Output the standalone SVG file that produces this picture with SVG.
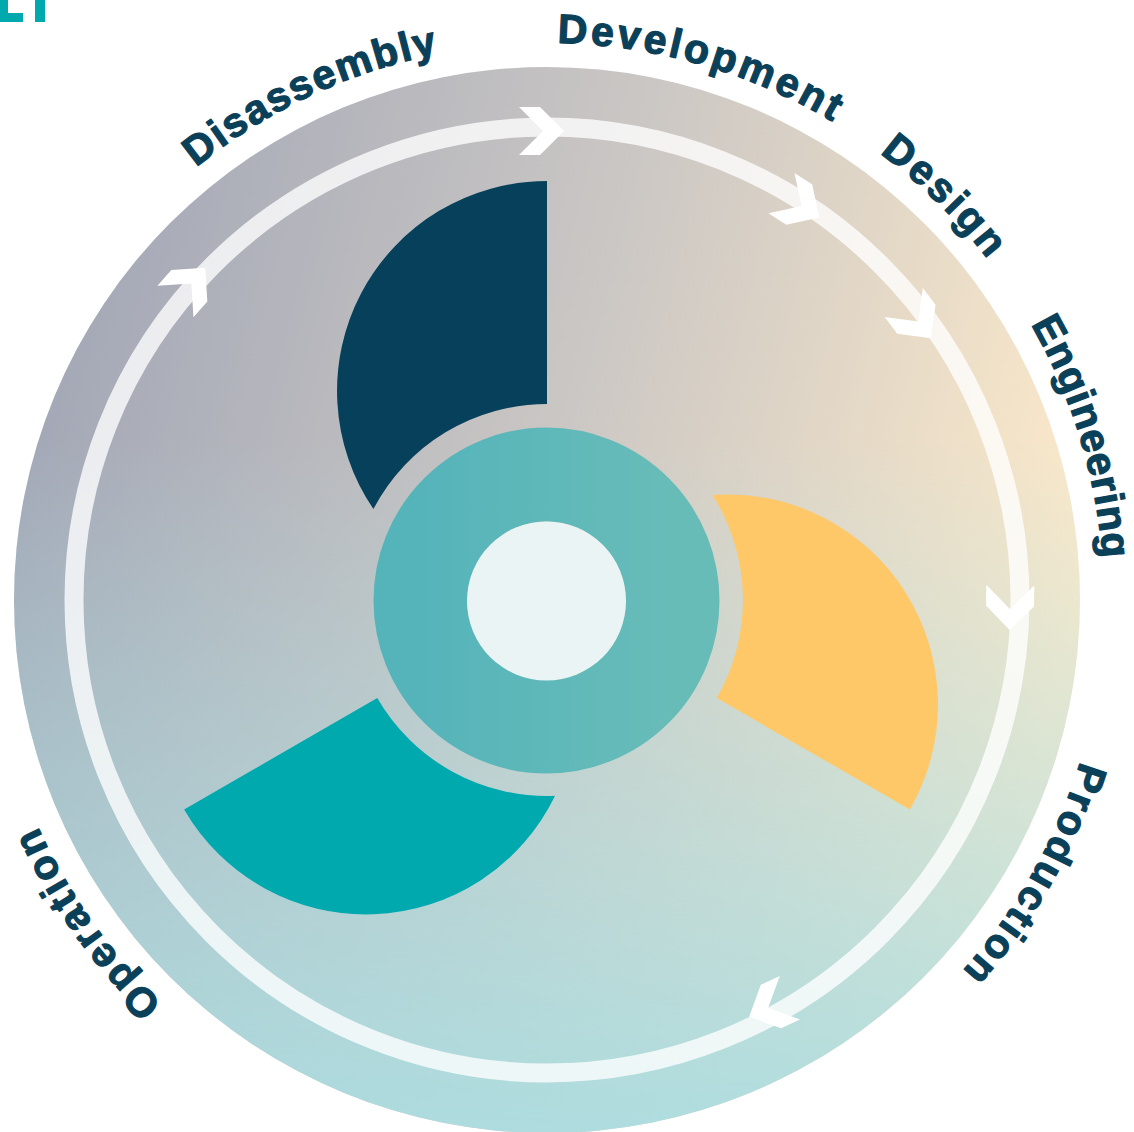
<svg xmlns="http://www.w3.org/2000/svg" xmlns:xlink="http://www.w3.org/1999/xlink" width="1134" height="1132" viewBox="0 0 1134 1132">
<style>
.lbl{font-family:"Liberation Sans",Arial,sans-serif;font-weight:700;font-size:41px;fill:#0B4059;stroke:#0B4059;stroke-width:1.2px;stroke-linejoin:round}
.chev{fill:#FFFFFF}
</style>
<defs>
<linearGradient id="gBase" x1="0.02" y1="0.25" x2="1" y2="0.5">
<stop offset="0" stop-color="#A2A7B6"/>
<stop offset="0.5" stop-color="#CBC7C4"/>
<stop offset="1" stop-color="#FDEACA"/>
</linearGradient>
<linearGradient id="gCyan" x1="0" y1="0" x2="0" y2="1">
<stop offset="0.35" stop-color="#AADDE1" stop-opacity="0"/>
<stop offset="1" stop-color="#AADDE1" stop-opacity="0.92"/>
</linearGradient>
<linearGradient id="gRing" x1="0" y1="0" x2="1" y2="0">
<stop offset="0" stop-color="#55B4BA"/>
<stop offset="1" stop-color="#68BCB8"/>
</linearGradient>
<path id="chevShape" d="M 23 0 L -1 -24 L -22 -24 L 2 0 L -22 24 L -1 24 Z"/>
<path id="labelPath" d="M 547 1157 A 557 557 0 0 1 547 43 A 557 557 0 0 1 547 1157"/>
<path id="bladeShape" d="M 547 181 A 210 210 0 0 0 373.4 509.1 A 196 196 0 0 1 547 404 Z"/>
</defs>

<g id="logo-fragment" fill="#00A9AE">
<rect x="0" y="0" width="8" height="22"/>
<rect x="0" y="13" width="23" height="9"/>
<rect x="35" y="0" width="10" height="22"/>
</g>

<g id="background-disc">
<circle cx="547" cy="600" r="533" fill="url(#gBase)"/>
<circle cx="547" cy="600" r="533" fill="url(#gCyan)"/>
</g>

<g id="connectors">
<circle id="cycle-ring" cx="547" cy="600" r="473" fill="none" stroke="#FFFFFF" stroke-opacity="0.78" stroke-width="19"/>
<use xlink:href="#chevShape" class="chev" transform="translate(541 131) rotate(0)"/>
<use xlink:href="#chevShape" class="chev" transform="translate(800 205) rotate(32.6)"/>
<use xlink:href="#chevShape" class="chev" transform="translate(917 320) rotate(52.9)"/>
<use xlink:href="#chevShape" class="chev" transform="translate(1010 607) rotate(90.9)"/>
<use xlink:href="#chevShape" class="chev" transform="translate(770 1007) rotate(155)"/>
<use xlink:href="#chevShape" class="chev" transform="translate(190 285) rotate(-48.6)"/>
</g>

<g id="blade-navy"><use xlink:href="#bladeShape" fill="#07405A"/></g>
<g id="blade-yellow"><use xlink:href="#bladeShape" fill="#FEC868" transform="rotate(120 547 600)"/></g>
<g id="blade-teal"><use xlink:href="#bladeShape" fill="#00A9AE" transform="rotate(240 547 600)"/></g>

<g id="hub">
<circle cx="546.5" cy="600.5" r="126" fill="none" stroke="url(#gRing)" stroke-width="94"/>
<circle cx="546.5" cy="601" r="79.5" fill="#EBF4F4"/>
</g>

<g id="labels">
<text class="lbl" id="label-operation" letter-spacing="3"><textPath xlink:href="#labelPath" startOffset="424">Operation</textPath></text>
<text class="lbl" id="label-disassembly" letter-spacing="1.9"><textPath xlink:href="#labelPath" startOffset="1370">Disassembly</textPath></text>
<text class="lbl" id="label-development" letter-spacing="3.2"><textPath xlink:href="#labelPath" startOffset="1760">Development</textPath></text>
<text class="lbl" id="label-design" letter-spacing="3"><textPath xlink:href="#labelPath" startOffset="2106">Design</textPath></text>
<text class="lbl" id="label-engineering" letter-spacing="1"><textPath xlink:href="#labelPath" startOffset="2336">Engineering</textPath></text>
<text class="lbl" id="label-production" letter-spacing="2.9"><textPath xlink:href="#labelPath" startOffset="2788">Production</textPath></text>
</g>
</svg>
